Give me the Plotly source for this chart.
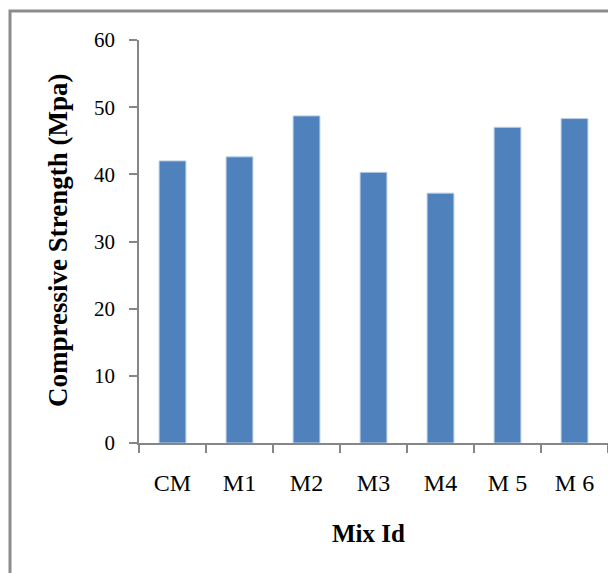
import plotly.graph_objects as go

categories = ["CM", "M1", "M2", "M3", "M4", "M 5", "M 6"]
strength = [42.0, 42.6, 48.7, 40.3, 37.2, 47.0, 48.3]
y_ticks = [0, 10, 20, 30, 40, 50, 60]

# page body has an 8px margin; compensate so the chart lands where the reference is
OFF = 8
W, H = 616 - OFF, 573 - OFF
L, R, T, B = 139 - OFF, 16 - OFF, 40 - OFF, 130
pw, ph = W - L - R, H - T - B

def px_x(x):
    return (x - OFF - L) / pw

def px_y(y):
    return (H - B - (y - OFF)) / ph

font = "Liberation Serif, Times New Roman, serif"

fig = go.Figure(go.Bar(
    x=categories, y=strength,
    marker=dict(color="#4F81BD", line=dict(color="#B9CDE5", width=1)),
))

fig.update_layout(
    width=W, height=H,
    margin=dict(l=L, r=R, t=T, b=B, autoexpand=False),
    paper_bgcolor="white", plot_bgcolor="white",
    bargap=0.6, showlegend=False,
    font=dict(family=font, size=22, color="black"),
)
fig.update_xaxes(
    showline=True, linecolor="#868686", linewidth=1.5,
    ticks="outside", tickson="boundaries", ticklen=8, tickcolor="#868686", tickwidth=1.5,
    showgrid=False, ticklabelstandoff=17,
    tickfont=dict(family=font, size=24, color="black"),
)
fig.update_yaxes(
    range=[0, 60], tickvals=y_ticks,
    showline=True, linecolor="#868686", linewidth=1.5,
    ticks="outside", ticklen=8, tickcolor="#868686", tickwidth=1.5,
    showgrid=False, zeroline=False, ticklabelstandoff=10,
    tickfont=dict(family=font, size=21, color="black"),
)
fig.add_annotation(
    text="<b>Compressive Strength (Mpa)</b>", textangle=-90,
    xref="paper", yref="paper", x=px_x(58), y=px_y(241),
    xanchor="center", yanchor="middle", showarrow=False,
    font=dict(family=font, size=27, color="black"),
)
fig.add_annotation(
    text="<b>Mix Id</b>",
    xref="paper", yref="paper", x=px_x(368), y=px_y(533),
    xanchor="center", yanchor="middle", showarrow=False,
    font=dict(family=font, size=25, color="black"),
)
fig.add_shape(
    type="rect", xref="paper", yref="paper",
    x0=px_x(10), y0=px_y(640), x1=px_x(700), y1=px_y(11),
    line=dict(color="#8C8C8C", width=3), layer="below",
)

fig.write_html("out.html")
